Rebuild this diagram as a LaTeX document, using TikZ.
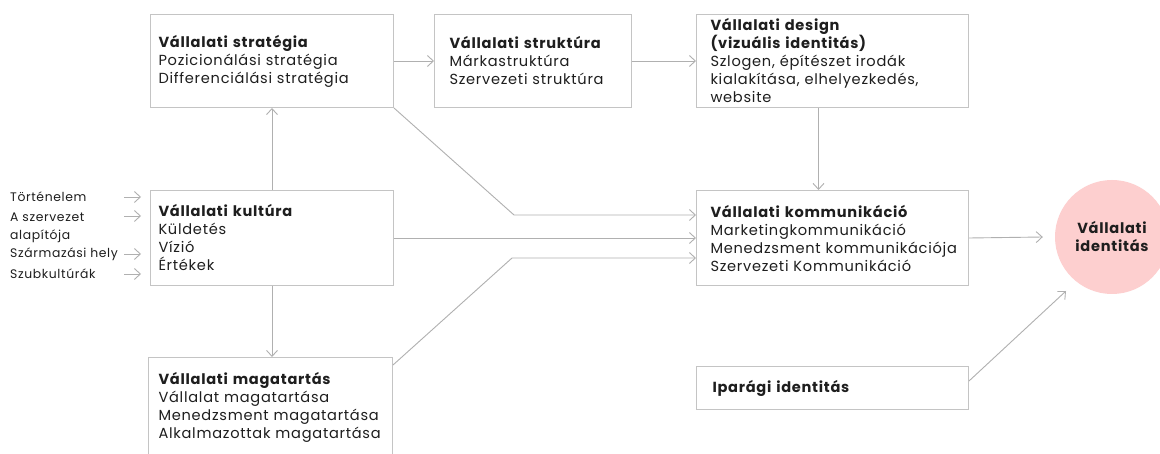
\documentclass[tikz,border=0pt]{standalone}
\usepackage{fontspec}
\setmainfont{Poppins}[LetterSpace=5]
\usetikzlibrary{arrows.meta}
\definecolor{boxline}{HTML}{C4C4C4}
\definecolor{arrline}{HTML}{B0B0B0}
\definecolor{txt}{HTML}{1E1E1E}
\definecolor{pink}{HTML}{FDCFCF}
\begin{document}
\begin{tikzpicture}[x=1pt,y=-1pt,
  box/.style={draw=boxline, line width=1pt, anchor=north west, align=left,
     text=txt, font=\fontsize{14.6}{18}\selectfont, inner ysep=0pt},
  lab/.style={anchor=west, text=txt, font=\fontsize{12.4}{18}\selectfont, inner sep=0pt, align=left},
  arr/.style={draw=arrline, line width=0.9pt, -{Straight Barb[length=6pt,width=11pt,line width=0.9pt]}}]
\useasboundingbox (0,0) rectangle (1160,454);
\fill[white] (0,0) rectangle (1160,454);
% boxes
\node[box, inner xsep=8pt, text width=227pt, minimum height=93pt] (strat) at (150,14)
  {\textbf{Vállalati stratégia}\\Pozicionálási stratégia\\Differenciálási stratégia};
\node[box, inner xsep=15pt, text width=167pt, minimum height=93pt] (struk) at (434,14)
  {\textbf{Vállalati struktúra}\\Márkastruktúra\\Szervezeti struktúra};
\node[box, inner xsep=14pt, text width=244pt, minimum height=93pt] (design) at (696,14)
  {\textbf{Vállalati design}\\\textbf{(vizuális identitás)}\\Szlogen, építészet irodák\\kialakítása, elhelyezkedés,\\website};
\node[box, inner xsep=8pt, text width=227pt, minimum height=95pt] (kult) at (150,190)
  {\textbf{Vállalati kultúra}\\Küldetés\\Vízió\\Értékek};
\node[box, inner xsep=14pt, text width=244pt, minimum height=95pt] (komm) at (696,190)
  {\textbf{Vállalati kommunikáció}\\Marketingkommunikáció\\\mbox{Menedzsment kommunikációja}\\Szervezeti Kommunikáció};
\node[box, inner xsep=10pt, text width=224pt, minimum height=100pt] (mag) at (148,357)
  {\textbf{Vállalati magatartás}\\Vállalat magatartása\\Menedzsment magatartása\\\mbox{Alkalmazottak magatartása}};
\node[box, inner xsep=16pt, text width=240pt, minimum height=43pt] (ipar) at (696,366)
  {\textbf{Iparági identitás}};
\node[circle, fill=pink, minimum size=114pt, inner sep=0pt, align=center, text=txt,
  font=\fontsize{14.6}{18}\selectfont\bfseries] (ident) at (1112,237) {Vállalati\\identitás};
% left labels
\node[lab] (l1) at (10,197) {Történelem};
\node[lab, anchor=north west] (l2) at (10,213) {A szervezet\\alapítója};
\node[lab] (l3) at (10,254) {Származási hely};
\node[lab] (l4) at (10,274) {Szubkultúrák};
\coordinate (a1) at (124,197); \coordinate (b1) at (141,197);
\coordinate (a2) at (124,216); \coordinate (b2) at (141,216);
\coordinate (a3) at (124,254); \coordinate (b3) at (141,254);
\coordinate (a4) at (124,274); \coordinate (b4) at (141,274);
\draw[arr] (a1) -- (b1);
\draw[arr] (a2) -- (b2);
\draw[arr] (a3) -- (b3);
\draw[arr] (a4) -- (b4);
% connectors
\draw[arr] (strat.east) -- (struk.west);
\draw[arr] (struk.east) -- (design.west);
\draw[arr] ([xshift=-14pt]design.south) -- ([xshift=-14pt]komm.north);
\draw[arr] (kult.north -| strat.south) -- (strat.south);
\draw[arr] (kult.south) -- (kult.south |- mag.north);
\coordinate (k1) at (514,215);
\coordinate (k3) at (512,258);
\draw[arr] (strat.south east) -- (k1) -- (k1 -| komm.west);
\draw[arr] (kult.east) -- (kult.east -| komm.west);
\draw[arr] ([yshift=-8pt]mag.north east) -- (k3) -- (k3 -| komm.west);
\draw[arr] (komm.east) -- ([xshift=-12pt]ident.west);
\draw[arr] ([yshift=-15pt]ipar.north east) -- (1066,291);
\end{tikzpicture}
\end{document}
